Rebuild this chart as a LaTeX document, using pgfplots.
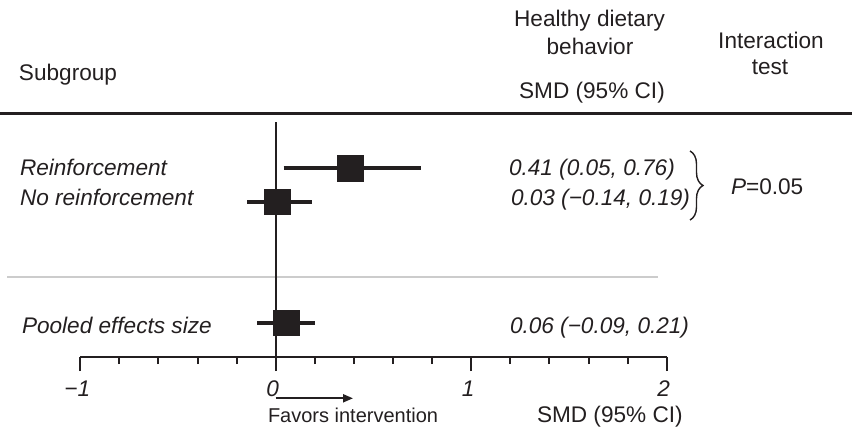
\documentclass[border=0pt]{standalone}
\usepackage{pgfplots}
\pgfplotsset{compat=1.18}
\usepackage{fontspec}
\setmainfont{Liberation Sans}
\usetikzlibrary{decorations.pathreplacing,arrows.meta}
\definecolor{ink}{RGB}{35,31,32}
\definecolor{rule}{RGB}{204,204,204}
\newcommand\fs{\fontsize{22.6}{27}\selectfont}
\newcommand\fss{\fontsize{20}{24}\selectfont}
\begin{document}
\begin{tikzpicture}[x=1pt,y=1pt,every node/.style={inner sep=0pt,outer sep=0pt,text=ink}]
% header rules
\draw[line width=3pt,ink] (0,318) -- (852,318);
\draw[line width=2pt,rule] (7,155.3) -- (658,155.3);
\begin{axis}[
  at={(80.2pt,75pt)}, anchor=south west,
  scale only axis, width=586.5pt, height=235pt,
  xmin=-1, xmax=2, ymin=75, ymax=310,
  axis x line*=bottom, axis y line=none,
  clip=false,
  xtick={-1,0,1,2}, minor x tick num=4,
  xticklabels={−1,0,1,2},
  xticklabel style={font=\fs\itshape, text=ink, xshift=-3pt, yshift=-10pt},
  tick align=outside,
  major tick length=14pt, minor tick length=7pt,
  every tick/.style={line width=2pt, ink},
  every minor tick/.style={line width=2pt, ink},
  x axis line style={line width=2.5pt, ink},
]
% zero line
\addplot[line width=1.6pt, ink] coordinates {(0,75) (0,310)};
% confidence intervals
\addplot[line width=4pt, ink] coordinates {(0.04,264) (0.745,264)};
\addplot[line width=4pt, ink] coordinates {(-0.145,230.5) (0.185,230.5)};
\addplot[line width=4pt, ink] coordinates {(-0.095,109.5) (0.20,109.5)};
% point estimates
\addplot[only marks, mark=square*, mark size=12.8pt, ink, mark options={fill=ink, draw=ink, line width=0.4pt}]
  coordinates {(0.38,264) (0.007,230.5) (0.055,109.5)};
\end{axis}
% headers
\node[anchor=base west] at (19,351.3) {\fs Subgroup};
\node[anchor=base] at (589.5,405) {\fs Healthy dietary};
\node[anchor=base] at (590,377) {\fs behavior};
\node[anchor=base] at (592,333) {\fs SMD (95\% CI)};
\node[anchor=base] at (771,383) {\fs Interaction};
\node[anchor=base] at (770,357) {\fs test};
% row labels
\node[anchor=base west] at (20,256) {\fs\itshape Reinforcement};
\node[anchor=base west] at (20,226) {\fs\itshape No reinforcement};
\node[anchor=base west] at (22,99) {\fs\itshape Pooled effects size};
% values
\node[anchor=base west] at (509,256) {\fs\itshape 0.41 (0.05, 0.76)};
\node[anchor=base west] at (511,227) {\fs\itshape 0.03 (−0.14, 0.19)};
\node[anchor=base west] at (510,99) {\fs\itshape 0.06 (−0.09, 0.21)};
% brace and interaction p
\draw[line width=1.4pt, ink, decorate, decoration={brace, amplitude=13pt}] (690,281) -- (690,212);
\node[anchor=base west] at (731,237) {\fs\textit{P}=0.05};
% bottom
\draw[line width=2pt, ink, -{Triangle[length=10pt,width=8pt]}] (275.7,33.7) -- (353,33.7);
\node[anchor=base west] at (268,10) {\fss Favors intervention};
\node[anchor=base west] at (537,10) {\fs SMD (95\% CI)};
\pgfresetboundingbox
\path[use as bounding box] (0,0) rectangle (852,432);
\end{tikzpicture}
\end{document}
